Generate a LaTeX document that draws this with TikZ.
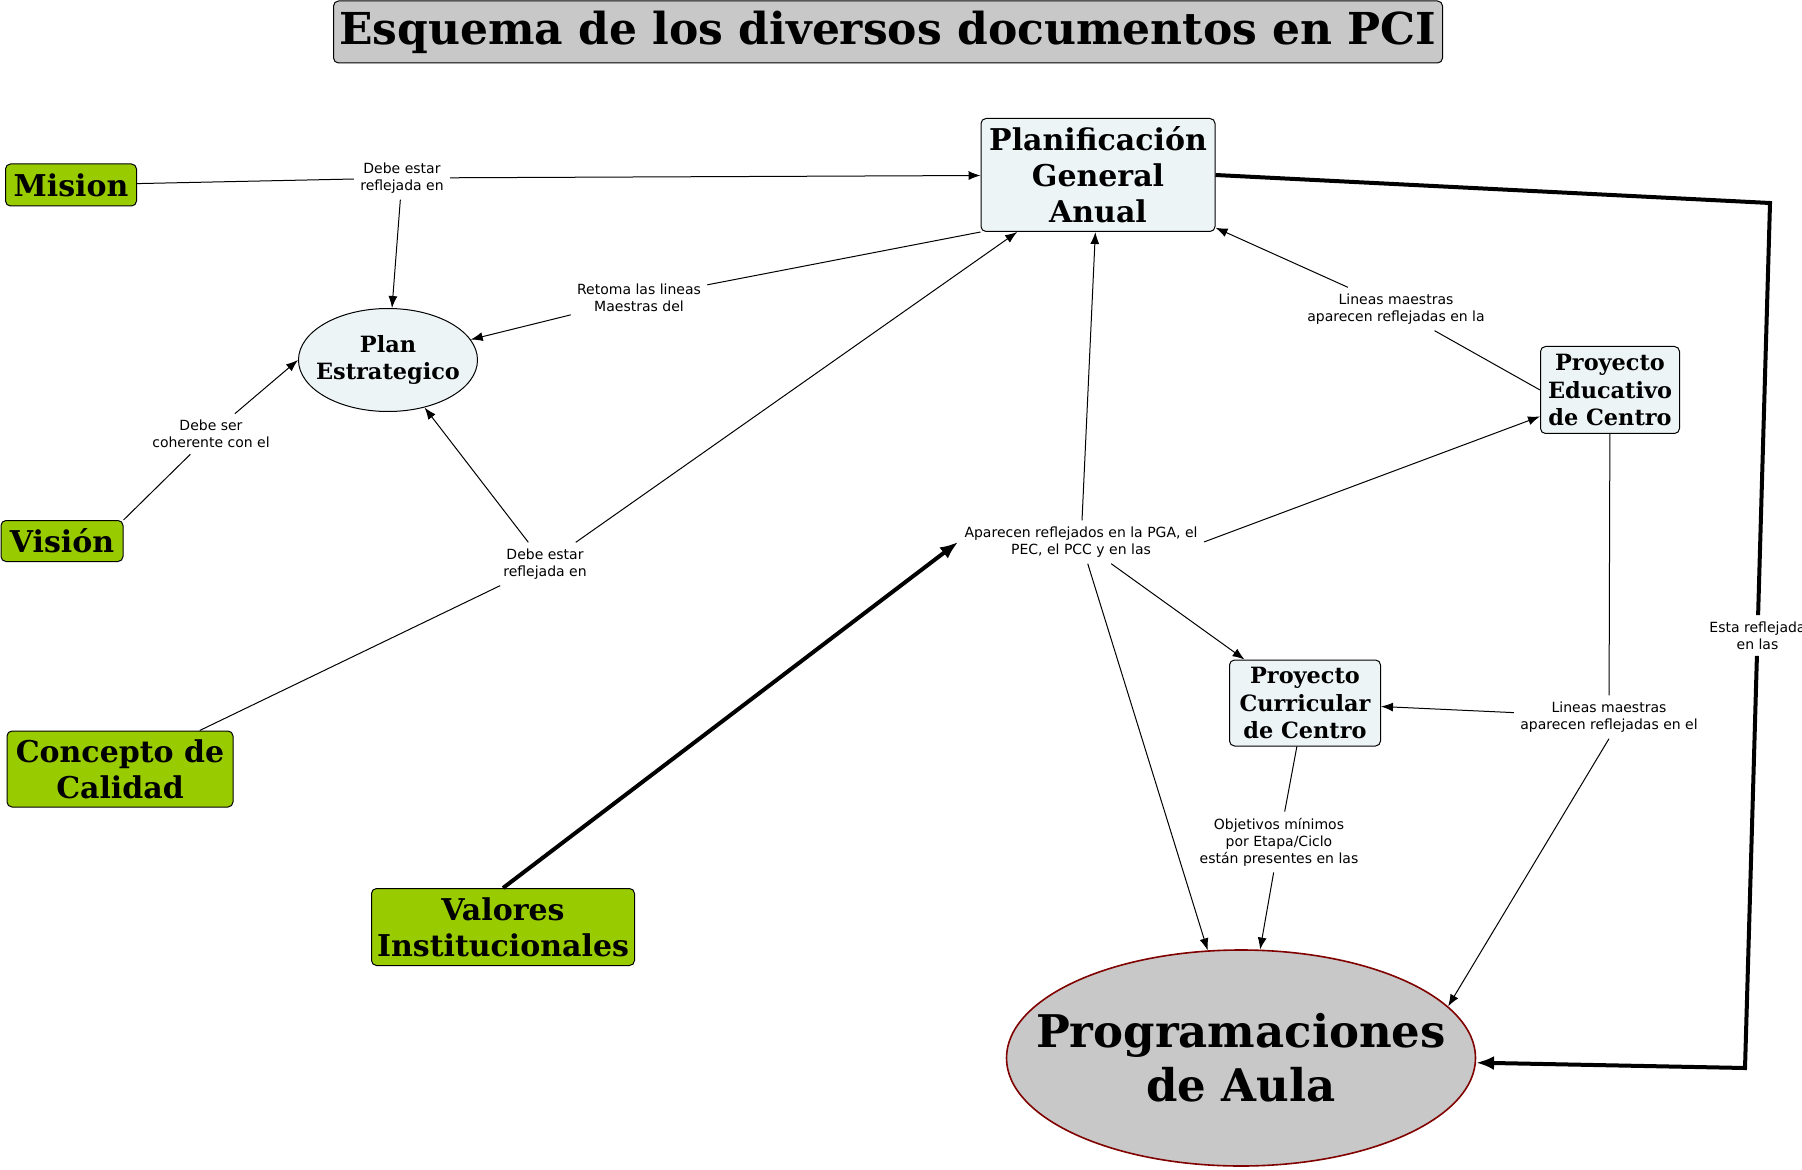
\documentclass[tikz,border=0pt]{standalone}
\usepackage{fontspec}
\setmainfont{DejaVu Serif}
\newfontfamily\lblfont{DejaVu Sans}
\usetikzlibrary{arrows.meta,shapes.geometric,calc}
\definecolor{conceptgreen}{RGB}{153,204,0}
\definecolor{conceptblue}{RGB}{237,244,246}
\definecolor{titlegray}{RGB}{200,200,200}
\definecolor{progred}{RGB}{128,0,0}

\begin{document}
\begin{tikzpicture}[x=0.5pt, y=-0.5pt,
  box/.style={draw, rounded corners=2.5pt, align=center, inner sep=0pt, line width=0.5pt},
  greenbox/.style={box, fill=conceptgreen, font=\bfseries\fontsize{15}{18}\selectfont},
  bluebox/.style={box, fill=conceptblue, font=\bfseries\fontsize{11.2}{13.8}\selectfont},
  lbl/.style={font=\lblfont\fontsize{7}{8.5}\selectfont, align=center, inner sep=3pt},
  arr/.style={-{Latex[length=6pt,width=4.5pt]}, line width=0.5pt},
  line/.style={line width=0.5pt},
  bigarr/.style={-{Latex[length=9pt,width=7pt]}, line width=2pt}
]
  \fill[white] (0,0) rectangle (1802,1170);
  \useasboundingbox (0,0) rectangle (1802,1170);

  \node[box, fill=titlegray, minimum width=554.5pt, minimum height=31pt,
        font=\bfseries\fontsize{22}{26}\selectfont] (title) at (888,32)
        {Esquema de los diversos documentos en PCI};

  \node[greenbox, minimum width=65.5pt, minimum height=21pt] (mision) at (71,185) {Mision};
  \node[greenbox, minimum width=61pt, minimum height=20.5pt] (vision) at (62,541) {Visión};
  \node[greenbox, minimum width=113pt, minimum height=38pt] (calidad) at (120,769) {Concepto de\\Calidad};
  \node[greenbox, minimum width=131.5pt, minimum height=38.5pt] (valores) at (503,927) {Valores\\Institucionales};

  \node[draw, ellipse, fill=conceptblue, line width=0.5pt, align=center, inner xsep=-5pt,
        minimum width=89.5pt, minimum height=51.5pt,
        font=\bfseries\fontsize{11.2}{13.8}\selectfont] (plan) at (388,360) {Plan\\Estrategico};
  \node[box, fill=conceptblue, minimum width=117pt, minimum height=56.5pt,
        font=\bfseries\fontsize{15}{18}\selectfont] (pga) at (1098,175) {Planificación\\General\\Anual};
  \node[bluebox, minimum width=69.5pt, minimum height=43.5pt] (pec) at (1610,390) {Proyecto\\Educativo\\de Centro};
  \node[bluebox, minimum width=75.5pt, minimum height=43pt] (pcc) at (1305,703) {Proyecto\\Curricular\\de Centro};
  \node[draw=progred, ellipse, fill=titlegray, line width=0.8pt, align=center, inner xsep=-25pt,
        minimum width=234.5pt, minimum height=108pt,
        font=\bfseries\fontsize{22.5}{27}\selectfont] (prog) at (1241,1058) {Programaciones\\de Aula};

  \node[lbl] (l1) at (402,178) {Debe estar\\reflejada en};
  \node[lbl] (l2) at (639,298) {Retoma las lineas\\Maestras del};
  \node[lbl] (l3) at (211,434) {Debe ser\\coherente con el};
  \node[lbl] (l4) at (545,564) {Debe estar\\reflejada en};
  \node[lbl] (l5) at (1081,542) {Aparecen reflejados en la PGA, el\\PEC, el PCC y en las};
  \node[lbl] (l6) at (1396,309) {Lineas maestras\\aparecen reflejadas en la};
  \node[lbl] (l7) at (1609,717) {Lineas maestras\\aparecen reflejadas en el};
  \node[lbl] (l8) at (1279,842) {Objetivos mínimos\\por Etapa/Ciclo\\están presentes en las};
  \coordinate (c1) at (1770,203);
  \coordinate (c2) at (1745,1068);
  \node[lbl] (l9) at ($(c1)!0.5!(c2)$) {Esta reflejada\\en las};

  \draw[line] (mision) -- (l1);
  \draw[arr] (l1) -- (pga);
  \draw[arr] (l1) -- (plan);
  \draw[line] (pga.south west) -- (l2);
  \draw[arr] (l2) -- (plan);
  \draw[line] (vision.north east) -- (l3);
  \draw[arr] (l3) -- (plan.west);
  \draw[line] (calidad) -- (l4);
  \draw[arr] (l4) -- (plan);
  \draw[arr] (l4) -- (pga);
  \draw[bigarr] (valores.north) -- (l5.west);
  \draw[arr] (l5) -- (pga);
  \draw[arr] (l5.east) -- ($(pec.west)!0.6!(pec.south west)$);
  \draw[arr] (l5) -- (pcc);
  \draw[arr] (l5) -- (prog);
  \draw[line] (pec.west) -- (l6);
  \draw[arr] (l6) -- (pga);
  \draw[line] (pec) -- (l7);
  \draw[arr] (l7) -- (pcc);
  \draw[arr] (l7.south) -- (prog.14);
  \draw[line] (pcc) -- (l8);
  \draw[arr] (l8) -- (prog);
  \draw[line width=2pt] (pga.east) -- (c1) -- (l9);
  \draw[bigarr] (l9) -- (c2) -- (prog);
\end{tikzpicture}
\end{document}
